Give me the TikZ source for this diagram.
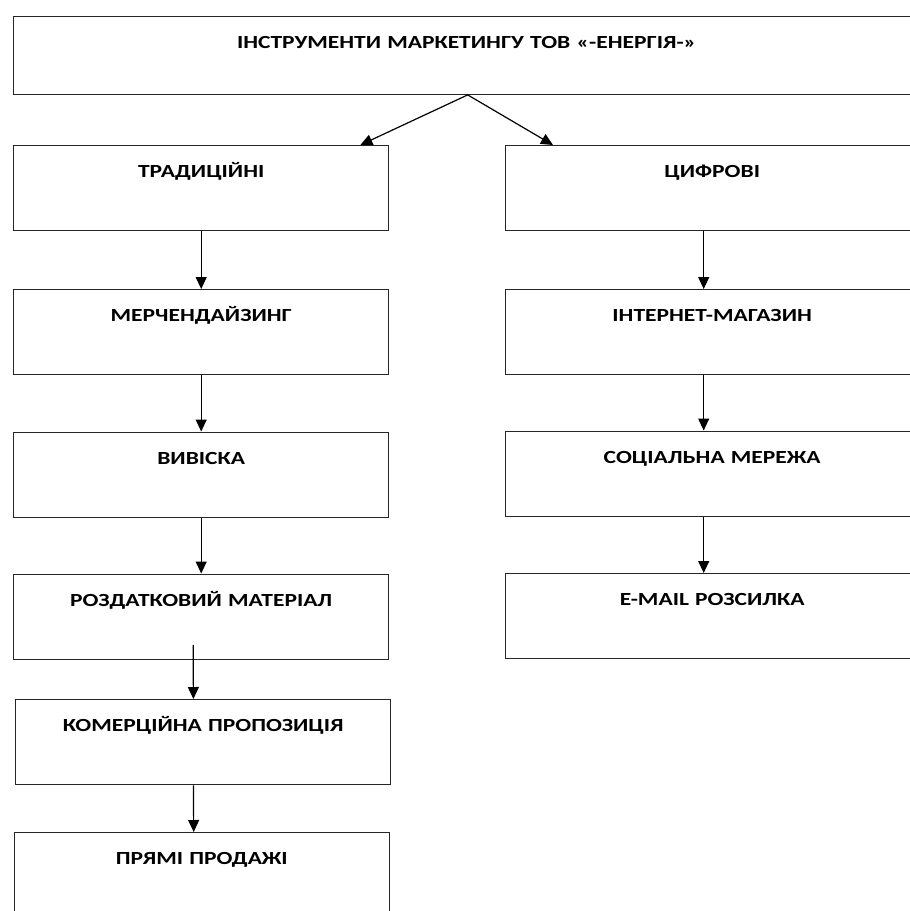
\documentclass[tikz,border=0pt]{standalone}
\usepackage{fontspec}
\setmainfont{Carlito}[FakeStretch=1.27]
\usetikzlibrary{arrows.meta,positioning}
\begin{document}
\begin{tikzpicture}[x=1pt,y=-1pt,
  boxbase/.style={draw=black!85, line width=1.4pt, rectangle, anchor=north west, inner sep=0pt,
    font=\bfseries\fontsize{18.5}{20}\selectfont, text=black, align=center},
  lbox/.style={boxbase, minimum width=375pt, text width=375pt, text height=32pt, text depth=53pt},
  rbox/.style={boxbase, minimum width=413pt, text width=413pt, text height=32pt, text depth=53pt},
  arr/.style={draw=black, line width=1.2pt, -{Triangle[length=12pt,width=11pt]}}]
\useasboundingbox (0,0) rectangle (910,911);
\fill[white] (0,0) rectangle (910,911);
\node[boxbase, minimum width=906pt, text width=906pt, text height=32.5pt, text depth=45.5pt] (top) at (13,15.5) {ІНСТРУМЕНТИ МАРКЕТИНГУ ТОВ «-ЕНЕРГІЯ-»};
\node[lbox] (l1) at (13,145) {ТРАДИЦІЙНІ};
\node[lbox] (l2) at (13,289) {МЕРЧЕНДАЙЗИНГ};
\node[lbox] (l3) at (13,431.5) {ВИВІСКА};
\node[lbox] (l4) at (13,573.5) {РОЗДАТКОВИЙ МАТЕРІАЛ};
\node[lbox] (l5) at (15,699) {КОМЕРЦІЙНА ПРОПОЗИЦІЯ};
\node[lbox] (l6) at (13.5,832) {ПРЯМІ ПРОДАЖІ};
\node[rbox] (r1) at (505,145) {ЦИФРОВІ};
\node[rbox] (r2) at (505,289) {ІНТЕРНЕТ-МАГАЗИН};
\node[rbox] (r3) at (505,430.5) {СОЦІАЛЬНА МЕРЕЖА};
\node[rbox] (r4) at (505,573) {E-MAIL РОЗСИЛКА};
\draw[arr] ([xshift=1pt]top.south) -- ([xshift=-29pt]l1.north east);
\draw[arr] ([xshift=1pt]top.south) -- ([xshift=48pt]r1.north west);
\draw[arr] (l1.south) -- (l2.north);
\draw[arr] (l2.south) -- (l3.north);
\draw[arr] (l3.south) -- (l4.north);
\draw[arr] ([xshift=-8pt,yshift=15pt]l4.south) -- ([xshift=-9.8pt]l5.north);
\draw[arr] ([xshift=-9.8pt]l5.south) -- ([xshift=-8pt]l6.north);
\draw[arr] ([xshift=-8.5pt]r1.south) -- ([xshift=-8.5pt]r2.north);
\draw[arr] ([xshift=-8.5pt]r2.south) -- ([xshift=-8.5pt]r3.north);
\draw[arr] ([xshift=-8.5pt]r3.south) -- ([xshift=-8.5pt]r4.north);
\end{tikzpicture}
\end{document}
